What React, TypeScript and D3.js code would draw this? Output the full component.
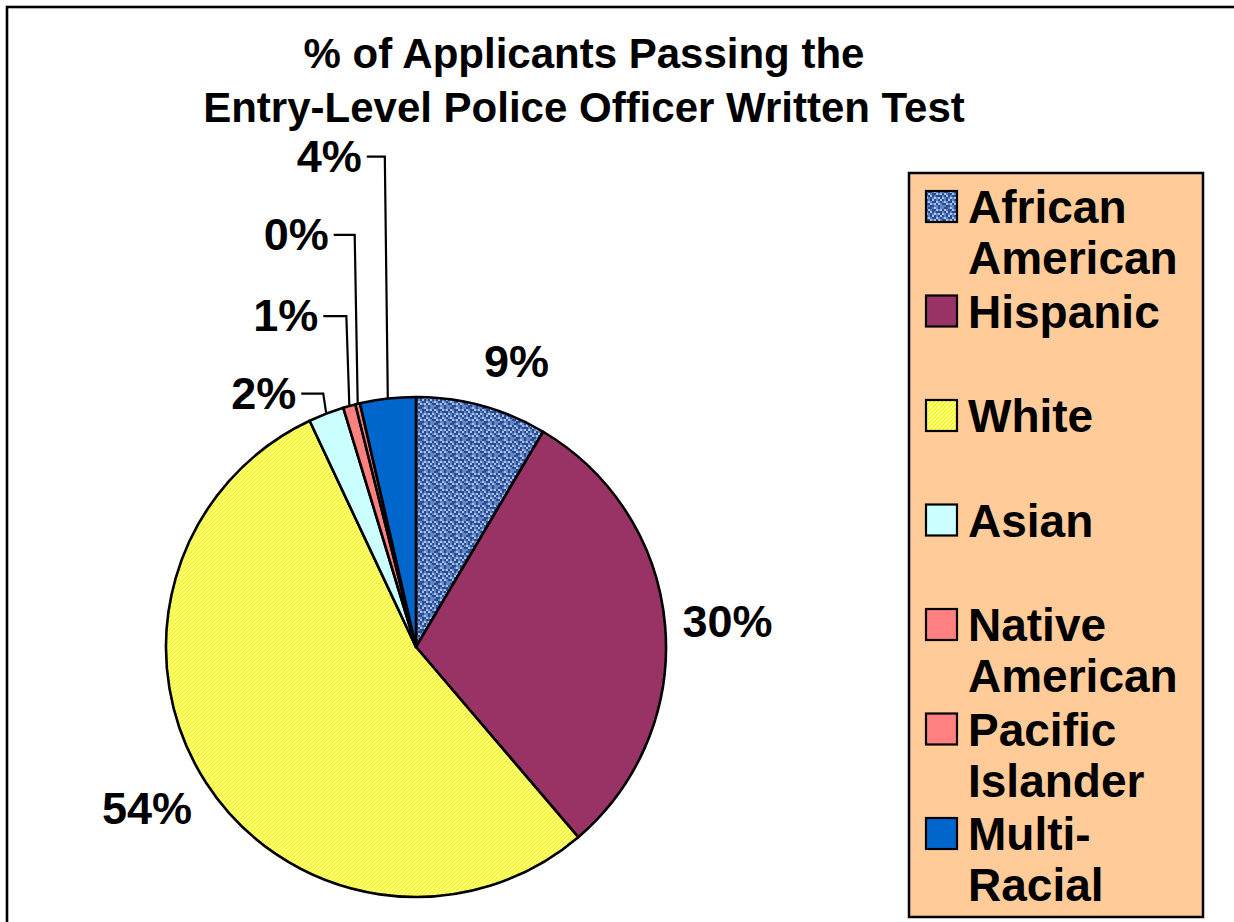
import React from "react";
import * as d3 from "d3";

const TITLE_LINES = ["% of Applicants Passing the", "Entry-Level Police Officer Written Test"];
const CATEGORIES = ["African American", "Hispanic", "White", "Asian", "Native American", "Pacific Islander", "Multi-Racial"];
const VALUES = [8.5, 30.3, 54.3, 2.3, 0.8, 0.3, 3.6];
const LABELS = ["9%", "30%", "54%", "2%", "1%", "0%", "4%"];
const LEGEND_LINES = [["African", "American"], ["Hispanic"], ["White"], ["Asian"], ["Native", "American"], ["Pacific", "Islander"], ["Multi-", "Racial"]];
const FILLS = ["url(#patAA)", "#993366", "url(#patWhite)", "#CCFFFF", "#FF8080", "#FF8080", "#0066CC"];
const SWATCH_FILLS = ["url(#patAAsm)", "#993366", "url(#patWhite)", "#CCFFFF", "#FF8080", "#FF8080", "#0066CC"];
// leader-line labels (dragged labels): offset of text right end / baseline from slice edge point
const LEADER: Record<number, { dx: number; dy: number }> = {
  3: { dx: -30, dy: -5 },
  4: { dx: -31, dy: -75 },
  5: { dx: -29, dy: -154 },
  6: { dx: -26, dy: -227 },
};

const W = 1234, H = 922;
const CX = 416, CY = 647, R = 250;
const FONT = "'Liberation Sans', Arial, Helvetica, sans-serif";
const AA_TEX = [
  "10012101",
  "02100212",
  "10201000",
  "21012120",
  "01020102",
  "12100210",
  "00212021",
  "11001101",
];
const AA_COLS = ["#2a4c8c", "#6184c8", "#a8c2f0"];

export default function App() {
  const pie = d3.pie<number>().value((d) => d).sort(null);
  const arcs = pie(VALUES);
  const arc = d3.arc<d3.PieArcDatum<number>>().innerRadius(0).outerRadius(R);
  const fs = 45;

  const texCells: JSX.Element[] = [];
  AA_TEX.forEach((row, y) =>
    row.split("").forEach((c, x) => {
      texCells.push(<rect key={`${x}-${y}`} x={x * 2} y={y * 2} width={2} height={2} fill={AA_COLS[+c]} />);
    })
  );

  const labels = arcs.map((a, i) => {
    const mid = (a.startAngle + a.endAngle) / 2;
    const s = Math.sin(mid), c = Math.cos(mid);
    if (LEADER[i]) {
      const ex = CX + R * s, ey = CY - R * c;
      const tx = ex + LEADER[i].dx, ty = ey + LEADER[i].dy;
      const ly = ty - 15;
      const kx = ex - 3;
      return (
        <g key={i}>
          <polyline points={`${tx + 5},${ly} ${kx},${ly} ${ex},${ey}`} fill="none" stroke="#000" strokeWidth={2.2} />
          <text x={tx} y={ty} textAnchor="end" fontSize={fs} fontWeight="bold" fontFamily={FONT}>{LABELS[i]}</text>
        </g>
      );
    }
    const pr = 272;
    const px = CX + pr * s, py = CY - pr * c;
    const w = LABELS[i].length * 0.6 * fs + 0.29 * fs;
    const h = 34;
    const cx = px + Math.sign(s) * (w / 2) * 0.86;
    const cy = py - c * (h / 2 + 8);
    return (
      <text key={i} x={cx} y={cy + 16} textAnchor="middle" fontSize={fs} fontWeight="bold" fontFamily={FONT}>{LABELS[i]}</text>
    );
  });

  const legX = 909, legY = 173, legW = 294, legH = 744;
  const rowStep = 104.5, rowTop = 191;

  return (
    <svg width={W} height={H} style={{ position: "absolute", left: 0, top: 0 }} xmlns="http://www.w3.org/2000/svg">
      <defs>
        <pattern id="patAA" width={16} height={16} patternUnits="userSpaceOnUse">{texCells}</pattern>
        <pattern id="patAAsm" width={16} height={16} patternUnits="userSpaceOnUse" x={926} y={191}>{texCells}</pattern>
        <pattern id="patWhite" width={4} height={4} patternUnits="userSpaceOnUse">
          <rect width={4} height={4} fill="#FFFFB0" />
          <path d="M-1,1 L1,-1 M0,4 L4,0 M3,5 L5,3" stroke="#F5F500" strokeWidth={1.4} />
        </pattern>
      </defs>
      <rect x={0} y={0} width={W} height={H} fill="#fff" />
      <rect x={7} y={7} width={W + 20} height={H + 20} fill="none" stroke="#000" strokeWidth={2.6} />

      {TITLE_LINES.map((t, i) => (
        <text key={i} x={584} y={68 + i * 54} textAnchor="middle" fontSize={42} fontWeight="bold" fontFamily={FONT}>{t}</text>
      ))}

      <g transform={`translate(${CX},${CY})`}>
        {arcs.map((a, i) => (
          <path key={i} d={arc(a) || ""} fill={FILLS[i]} stroke="#000" strokeWidth={2.6} strokeLinejoin="round" />
        ))}
      </g>
      {labels}

      <rect x={legX} y={legY} width={legW} height={legH} fill="#FFCC99" stroke="#000" strokeWidth={2.5} />
      {CATEGORIES.map((cat, i) => {
        const top = rowTop + i * rowStep;
        return (
          <g key={cat}>
            <rect x={926} y={top} width={31} height={31} fill={SWATCH_FILLS[i]} stroke="#000" strokeWidth={2.2} />
            {LEGEND_LINES[i].map((ln, j) => (
              <text key={j} x={968} y={top + 32 + j * 51} fontSize={46} fontWeight="bold" fontFamily={FONT}>{ln}</text>
            ))}
          </g>
        );
      })}
    </svg>
  );
}
